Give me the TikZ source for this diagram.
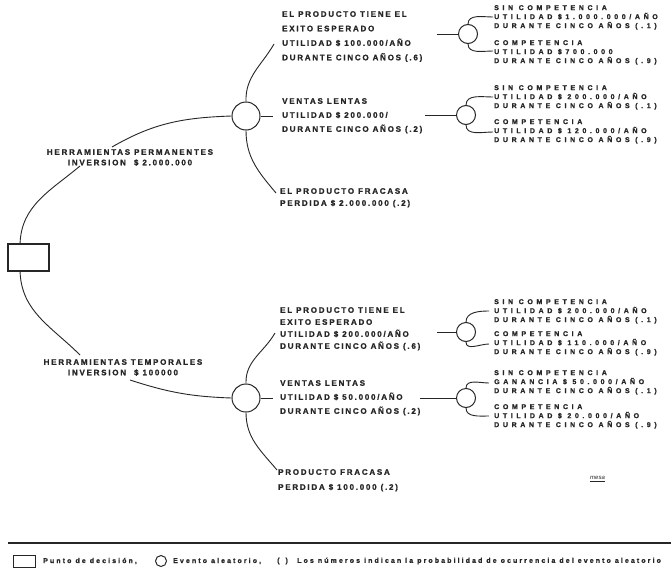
\documentclass[tikz,border=0pt]{standalone}
\usepackage{fontspec}
\setmainfont{Liberation Sans}
\newfontfamily\tfA[LetterSpace=22,FakeBold=1.2]{Liberation Sans Bold}
\newfontfamily\tfB[LetterSpace=52,FakeBold=1.2]{Liberation Sans Bold}
\newfontfamily\tfC[LetterSpace=30,FakeBold=0.8]{Liberation Sans Bold}
\definecolor{ink}{HTML}{262626}
\begin{document}
\begin{tikzpicture}[x=1pt,y=-1pt,
  ln/.style={draw=ink, line width=0.9pt},
  tA/.style={anchor=north west, inner sep=0pt, align=left, text=ink},
  tB/.style={anchor=north west, inner sep=0pt, align=left, text=ink,
     font=\tfB\fontsize{7}{9}\selectfont},
  lab/.style={anchor=north, inner sep=0pt, align=center, text=ink,
     font=\tfA\fontsize{8}{10.5}\selectfont},
  bigc/.style={circle, draw=ink, line width=1pt, minimum size=28pt, inner sep=0pt},
  smallc/.style={circle, draw=ink, line width=1pt, minimum size=19pt, inner sep=0pt},
  leg/.style={anchor=west, inner sep=0pt, text=ink, font=\tfC\fontsize{7}{8}\selectfont}]
\useasboundingbox (0,0) rectangle (671,570);
\fill[white] (0,0) rectangle (671,570);

% decision box
\node[draw=ink, line width=1.1pt, minimum width=41pt, minimum height=27pt, inner sep=0pt] (D) at (28.5,257.5) {};

% labels of the two alternatives
\node[lab] (HP) at (130,149) {HERRAMIENTAS PERMANENTES\\INVERSION\quad \$ 2.000.000};
\node[lab] (HT) at (123,359) {HERRAMIENTAS TEMPORALES\\INVERSION\quad \$ 100000};

% chance nodes, first level
\node[bigc] (C1) at (246,116) {};
\node[bigc] (C2) at (246,398) {};

% chance nodes, second level
\node[smallc] (C11) at (468,34) {};
\node[smallc] (C12) at (466,115) {};
\node[smallc] (C21) at (466,332) {};
\node[smallc] (C22) at (466,398) {};

% first level texts
\node[tA, font=\tfA\fontsize{8}{14.5}\selectfont] (A1) at (282,11)
  {EL PRODUCTO TIENE EL\\EXITO ESPERADO\\UTILIDAD \$ 100.000/AÑO\\DURANTE CINCO AÑOS (.6)};
\node[tA, font=\tfA\fontsize{8}{14}\selectfont] (A2) at (282,98)
  {VENTAS LENTAS\\UTILIDAD \$ 200.000/\\DURANTE CINCO AÑOS (.2)};
\node[tA, font=\tfA\fontsize{8}{12}\selectfont] (A3) at (280,188)
  {EL PRODUCTO FRACASA\\PERDIDA \$ 2.000.000 (.2)};
\node[tA, font=\tfA\fontsize{8}{12}\selectfont] (B1) at (280,307)
  {EL PRODUCTO TIENE EL\\EXITO ESPERADO\\UTILIDAD \$ 200.000/AÑO\\DURANTE CINCO AÑOS (.6)};
\node[tA, font=\tfA\fontsize{8}{14}\selectfont] (B2) at (280,380)
  {VENTAS LENTAS\\UTILIDAD \$ 50.000/AÑO\\DURANTE CINCO AÑOS (.2)};
\node[tA, font=\tfA\fontsize{8}{15}\selectfont] (B3) at (278,469)
  {PRODUCTO FRACASA\\PERDIDA \$ 100.000 (.2)};

% second level texts
\node[tB] (U1a) at (494,5) {SIN COMPETENCIA\\UTILIDAD \$1.000.000/AÑO\\DURANTE CINCO AÑOS (.1)};
\node[tB] (U1b) at (494,40) {COMPETENCIA\\UTILIDAD \$700.000\\DURANTE CINCO AÑOS (.9)};
\node[tB] (U2a) at (494,85) {SIN COMPETENCIA\\UTILIDAD \$ 200.000/AÑO\\DURANTE CINCO AÑOS (.1)};
\node[tB] (U2b) at (494,119) {COMPETENCIA\\UTILIDAD \$ 120.000/AÑO\\DURANTE CINCO AÑOS (.9)};
\node[tB] (L1a) at (494,299) {SIN COMPETENCIA\\UTILIDAD \$ 200.000/AÑO\\DURANTE CINCO AÑOS (.1)};
\node[tB] (L1b) at (494,331) {COMPETENCIA\\UTILIDAD \$ 110.000/AÑO\\DURANTE CINCO AÑOS (.9)};
\node[tB] (L2a) at (494,370) {SIN COMPETENCIA\\GANANCIA \$ 50.000/AÑO\\DURANTE CINCO AÑOS (.1)};
\node[tB] (L2b) at (494,404) {COMPETENCIA\\UTILIDAD \$ 20.000/AÑO\\DURANTE CINCO AÑOS (.9)};

\node[anchor=west, inner sep=0pt, text=ink, font=\itshape\fontsize{6}{7}\selectfont] (sig) at (590,479) {\underline{mesa}};

% free ends of connectors
\coordinate (bu) at (80,166);
\coordinate (hpo) at (112,147);
\coordinate (bl) at (80,355);
\coordinate (hto) at (130,380);
\coordinate (a1in) at (274,44);
\coordinate (a2in) at (273,116);
\coordinate (a3in) at (276,193);
\coordinate (a1out) at (437,34);
\coordinate (a2out) at (425,115);
\coordinate (b1in) at (275,333);
\coordinate (b2in) at (273,398);
\coordinate (b3in) at (277,470);
\coordinate (b1out) at (437,332);
\coordinate (b2out) at (420,398);
\coordinate (u1ai) at (493,17);
\coordinate (u1bi) at (493,51);
\coordinate (u2ai) at (493,97);
\coordinate (u2bi) at (493,132);
\coordinate (l1ai) at (489,311);
\coordinate (l1bi) at (489,344);
\coordinate (l2ai) at (489,383);
\coordinate (l2bi) at (489,416);

% connectors
\draw[ln] (D.121) to[out=88,in=220] (bu);
\draw[ln] (hpo) to[out=30,in=182] (C1.west);
\draw[ln] (D.239) to[out=-88,in=135] (bl);
\draw[ln] (hto) to[out=-18,in=178] (C2.west);

\draw[ln] (C1.north) to[out=92,in=240] (a1in);
\draw[ln] (C1.east) -- (a2in);
\draw[ln] (C1.south) to[out=-90,in=130] (a3in);
\draw[ln] (a1out) -- (C11.west);
\draw[ln] (a2out) -- (C12.west);

\draw[ln] (C2.north) to[out=92,in=240] (b1in);
\draw[ln] (C2.east) -- (b2in);
\draw[ln] (C2.south) to[out=-90,in=130] (b3in);
\draw[ln] (b1out) -- (C21.west);
\draw[ln] (b2out) -- (C22.west);

\draw[ln] (C11.north) to[out=90,in=180] (u1ai);
\draw[ln] (C11.south) to[out=-90,in=180] (u1bi);
\draw[ln] (C12.north) to[out=90,in=180] (u2ai);
\draw[ln] (C12.south) to[out=-90,in=180] (u2bi);
\draw[ln] (C21.north) to[out=90,in=180] (l1ai);
\draw[ln] (C21.south) to[out=-90,in=180] (l1bi);
\draw[ln] (C22.north) to[out=90,in=180] (l2ai);
\draw[ln] (C22.south) to[out=-90,in=180] (l2bi);

% legend
\coordinate (rl) at (8,543);
\coordinate (rr) at (671,543);
\draw[draw=ink, line width=1.6pt] (rl) -- (rr);
\node[draw=ink, line width=1pt, minimum width=22pt, minimum height=12pt, inner sep=0pt] (lgbox) at (24,561) {};
\node[leg] (lg1) at (43,561) {Punto de decisión,};
\node[circle, draw=ink, line width=1pt, minimum size=11pt, inner sep=0pt] (lgc) at (161,561) {};
\node[leg] (lg2) at (173,561) {Evento aleatorio,};
\node[leg] (lg3) at (277,561) {(\hspace{6pt})};
\node[leg] (lg4) at (297,561) {Los números indican la probabilidad de ocurrencia del evento aleatorio};
\end{tikzpicture}
\end{document}
